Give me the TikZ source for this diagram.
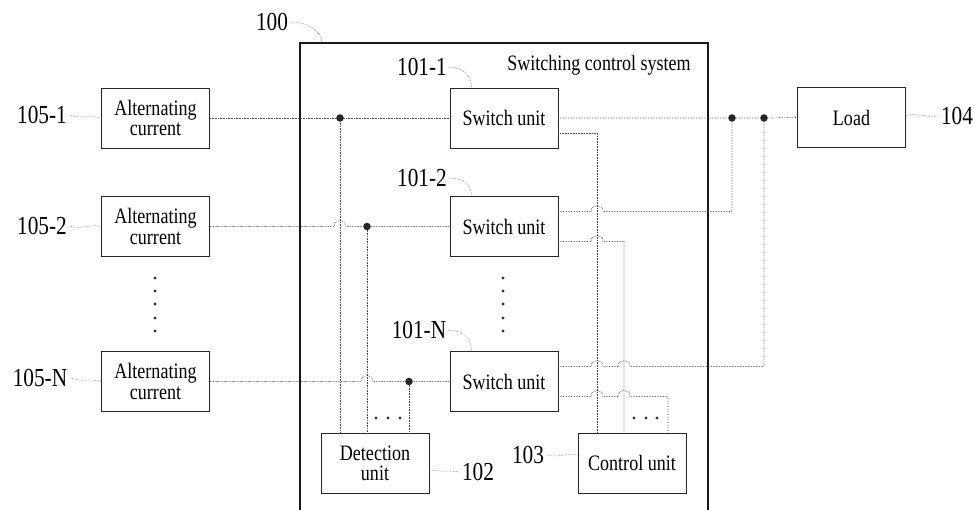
\documentclass[tikz,border=0pt]{standalone}
\usepackage{fontspec}
\setmainfont{Liberation Serif}[FakeStretch=0.82]
\newcommand\myboxfont{\fontsize{22}{20.5}\selectfont}
\newcommand\mylblfont{\fontsize{26}{26}\selectfont}
\tikzset{
  box/.style={draw=black!85, line width=0.8pt, minimum width=108pt, minimum height=60pt,
    align=center, inner sep=2pt, font=\myboxfont},
  sysframe/.style={draw=black!90, line width=1.4pt},
  wire/.style={draw=black!70, densely dotted, line width=0.6pt},
  leader/.style={draw=black!60, densely dotted, line width=0.5pt},
  lbl/.style={inner sep=0pt, font=\mylblfont},
  jdot/.style={circle, fill=black!85, inner sep=0pt, minimum size=7.5pt},
  sdot/.style={circle, fill=black!80, inner sep=0pt, minimum size=3.2pt},
}
\begin{document}
\begin{tikzpicture}[x=1pt,y=-1pt]
\useasboundingbox (0,0) rectangle (975,510);
\fill[white] (0,0) rectangle (975,510);

% system frame 100
\draw[sysframe] (300,512) -- (300,43) -- (708,43) -- (708,512);
\coordinate (b100) at (322,43);
\node[inner sep=0pt, font=\myboxfont] (SYS) at (599,65) {Switching control system};

% boxes
\node[box] (AC1) at (155.5,118) {Alternating\\current};
\node[box] (AC2) at (155.5,226.5) {Alternating\\current};
\node[box] (ACN) at (155.5,381.5) {Alternating\\current};
\node[box] (SW1) at (504,118) {Switch unit};
\node[box] (SW2) at (504,226.5) {Switch unit};
\node[box] (SWN) at (504,381.5) {Switch unit};
\node[box] (DET) at (375,463.5) {Detection\\unit};
\node[box] (CTL) at (632,463) {Control unit};
\node[box] (LOAD) at (851.5,117.5) {Load};

% labels
\node[lbl] (L100) at (272,22) {100};
\node[lbl] (L1011) at (422,67) {101-1};
\node[lbl] (L1012) at (422,178) {101-2};
\node[lbl] (L101N) at (419,330) {101-N};
\node[lbl] (L1051) at (42,115) {105-1};
\node[lbl] (L1052) at (42,226) {105-2};
\node[lbl] (L105N) at (40,378) {105-N};
\node[lbl] (L102) at (478,472) {102};
\node[lbl] (L103) at (528,455) {103};
\node[lbl] (L104) at (957,116) {104};

% leaders
\draw[leader] ([xshift=2pt]L100.east) .. controls +(18,0) and +(0,-12) .. (b100);
\draw[leader] ([xshift=2pt]L1011.east) .. controls +(14,0) and +(0,-12) .. ([xshift=22pt]SW1.north west);
\draw[leader] ([xshift=2pt]L1012.east) .. controls +(14,0) and +(0,-12) .. ([xshift=22pt]SW2.north west);
\draw[leader] ([xshift=2pt]L101N.east) .. controls +(14,0) and +(0,-12) .. ([xshift=22pt]SWN.north west);
\draw[leader] ([xshift=3pt]L1051.east) .. controls +(10,4) and +(-10,-3) .. (AC1.west);
\draw[leader] ([xshift=3pt]L1052.east) .. controls +(10,4) and +(-10,-3) .. (AC2.west);
\draw[leader] ([xshift=3pt]L105N.east) .. controls +(10,4) and +(-10,-3) .. (ACN.west);
\draw[leader] ([yshift=-6pt]DET.east) .. controls +(10,3) and +(-10,-2) .. ([xshift=-3pt]L102.west);
\draw[leader] ([xshift=3pt]L103.east) .. controls +(10,3) and +(-10,-2) .. ([yshift=8pt]CTL.west);
\draw[leader] ([yshift=2pt]LOAD.east) .. controls +(10,-3) and +(-10,2) .. ([xshift=-3pt]L104.west);

% junction and bend coordinates
\coordinate (j1) at (340,118);
\coordinate (j2) at (367,226.5);
\coordinate (jN) at (409,381.5);
\coordinate (o1) at (732,118);
\coordinate (o2) at (764,118);
\coordinate (c1) at (597,133);
\coordinate (c2) at (624,241.5);
\coordinate (c3) at (668,396.5);
\coordinate (u2) at (732,211.5);
\coordinate (uN) at (764,366.5);

% input side
\draw[wire] (AC1.east) -- (j1) -- (SW1.west);
\draw[wire] (j1) -- (j1 |- DET.north);
\draw[wire] (AC2.east) -- (334,226.5) .. controls (334,218.5) and (346,218.5) .. (346,226.5) -- (j2) -- (SW2.west);
\draw[wire] (j2) -- (j2 |- DET.north);
\draw[wire] (ACN.east) -- (361,381.5) .. controls (361,373.5) and (373,373.5) .. (373,381.5) -- (jN) -- (SWN.west);
\draw[wire] (jN) -- (jN |- DET.north);

% output side
\draw[wire] (SW1.east) -- (o1) -- (o2) -- (LOAD.west);
\draw[wire] ([yshift=-15pt]SW1.east) -- (c1) -- (c1 |- CTL.north);
\draw[wire] ([yshift=15pt]SW2.east) -- (591,211.5) .. controls (591,203.5) and (603,203.5) .. (603,211.5) -- (u2) -- (o1);
\draw[wire] ([yshift=-15pt]SW2.east) -- (591,241.5) .. controls (591,233.5) and (603,233.5) .. (603,241.5) -- (c2) -- (c2 |- CTL.north);
\draw[wire] ([yshift=15pt]SWN.east) -- (591,366.5) .. controls (591,358.5) and (603,358.5) .. (603,366.5)
  -- (618,366.5) .. controls (618,358.5) and (630,358.5) .. (630,366.5) -- (uN) -- (o2);
\draw[wire] ([yshift=-15pt]SWN.east) -- (591,396.5) .. controls (591,388.5) and (603,388.5) .. (603,396.5)
  -- (618,396.5) .. controls (618,388.5) and (630,388.5) .. (630,396.5) -- (c3) -- (c3 |- CTL.north);

% junction dots
\node[jdot] (dj1) at (j1) {};
\node[jdot] (dj2) at (j2) {};
\node[jdot] (djN) at (jN) {};
\node[jdot] (do1) at (o1) {};
\node[jdot] (do2) at (o2) {};

% ellipsis dots
\foreach \i/\yy in {1/278,2/291,3/304,4/318,5/331} {
  \node[sdot] (va\i) at (155,\yy) {};
  \node[sdot] (vs\i) at (503,\yy) {};
}
\foreach \i/\xx in {1/376,2/388,3/400} \node[sdot] (hd\i) at (\xx,418) {};
\foreach \i/\xx in {1/634,2/646,3/657} \node[sdot] (hc\i) at (\xx,418) {};
\end{tikzpicture}
\end{document}
